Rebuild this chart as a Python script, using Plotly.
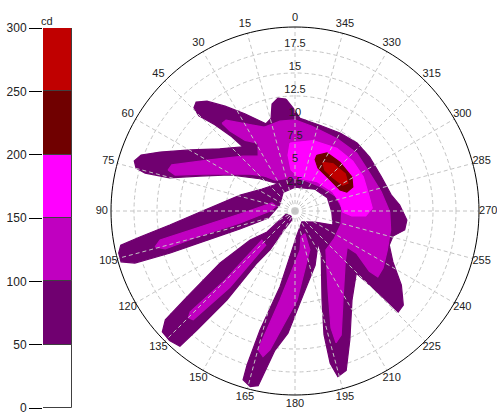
import plotly.graph_objects as go

# ---------------- data (luminous intensity contours, polar: angle deg, radius) -------------
# level >= 50 cd, main body with fingers
l50_main_theta = [4.6, 8.6, 12.1, 14.5, 18.4, 27.3, 33.7, 38.7, 42.2, 44.4, 45.3, 42.9, 40.4, 39.1,
                  50.4, 59.8, 66.4, 70.0, 72.7, 74.9, 75.8, 75.2, 69.8, 61.0, 47.6, 32.2, 56.3, 73.8,
                  89.4, 96.4, 99.5, 101.1, 103.4, 106.3, 108.0, 108.6, 108.4, 108.1, 104.5, 68.2, 32.3,
                  0.0, 317.7, 292.1, 268.5, 249.8, 241.2, 212.5, 184.8, 168.8, 163.6, 162.7, 162.9,
                  165.7, 168.1, 171.8, 176.7, 183.1, 200.3, 215.7, 211.8, 196.9, 193.2, 193.0, 194.5,
                  197.8, 203.1, 212.6, 224.5, 225.4, 225.6, 225.6, 229.0, 235.1, 242.5, 250.1, 255.7,
                  260.2, 265.4, 273.3, 279.5, 291.6, 305.8, 317.6, 330.0, 343.8, 356.9, 1.1]
l50_main_r = [12.2, 12.4, 11.9, 10.4, 10.0, 11.9, 13.7, 15.3, 16.0, 15.7, 14.7, 12.8, 10.6, 9.0,
              10.6, 13.2, 16.0, 17.8, 18.3, 17.9, 16.8, 14.1, 11.0, 8.1, 5.2, 3.5, 4.3, 6.2,
              9.8, 13.7, 17.1, 19.3, 19.7, 19.7, 18.3, 14.3, 10.3, 6.3, 3.0, 1.8, 2.4,
              2.6, 3.2, 3.8, 4.0, 4.4, 2.5, 1.4, 2.6, 8.4, 13.5, 17.5, 19.2,
              19.7, 19.4, 15.3, 13.3, 10.0, 6.3, 4.3, 5.4, 10.1, 13.8, 17.0, 18.6,
              18.2, 15.2, 11.5, 9.5, 11.8, 14.1, 15.7, 15.6, 14.1, 12.0, 10.9, 11.0,
              12.1, 12.2, 11.4, 10.6, 10.1, 10.0, 10.0, 9.8, 9.7, 10.1, 11.2]
# level >= 50 cd, separate finger near 135 deg
l50_isl_theta = [141.3, 108.4, 126.9, 122.8, 124.7, 128.5, 130.0, 132.3, 135.9, 139.6, 140.5, 142.6,
                 143.8, 147.3, 149.9, 161.6]
l50_isl_r = [0.7, 1.0, 3.8, 5.8, 9.9, 15.0, 18.4, 19.5, 19.6, 19.3, 16.8, 12.2, 7.0, 5.0, 2.4, 1.0]

# level >= 100 cd
l100_body_theta = [21.7, 9.5, 0.0, 348.7, 329.7, 313.1, 296.9, 282.5, 269.4, 258.8, 247.0, 237.1,
                   231.5, 231.0, 235.5, 235.3, 224.4, 208.3, 200.4, 197.3, 197.1, 202.7, 218.5,
                   235.3, 254.2, 273.7, 290.1, 311.6, 342.1, 8.6, 32.8, 42.5, 36.0, 28.2]
l100_body_r = [9.7, 9.9, 9.9, 9.4, 9.1, 9.2, 9.1, 9.6, 10.3, 10.6, 10.9, 11.4,
               11.5, 10.4, 8.1, 6.9, 7.8, 11.0, 14.4, 15.0, 13.3, 9.3, 5.4,
               5.2, 5.2, 5.1, 4.7, 3.9, 3.5, 3.6, 4.0, 5.3, 6.8, 8.5]
l100_f45_theta = [39.7, 37.2, 27.6, 18.0, 21.0, 35.2, 39.1]
l100_f45_r = [12.4, 12.4, 10.6, 9.5, 7.6, 9.4, 11.2]
l100_f75_theta = [72.1, 69.5, 59.0, 43.4, 28.6, 40.6, 50.6, 66.5, 73.3]
l100_f75_r = [14.5, 14.3, 10.8, 8.2, 6.8, 5.0, 6.3, 10.1, 13.6]
l100_f105_theta = [104.4, 102.1, 99.6, 93.1, 70.8, 75.3, 90.0, 102.3, 104.7, 106.3]
l100_f105_r = [15.7, 15.0, 10.5, 6.0, 2.65, 2.1, 2.7, 6.1, 10.7, 14.7]
l100_f135_theta = [135.0, 133.9, 134.6, 131.3, 139.5, 139.5, 136.9]
l100_f135_r = [16.4, 15.8, 10.7, 4.8, 4.9, 10.9, 16.2]
l100_f170_theta = [203.5, 201.0, 181.3, 169.8, 167.6, 165.1, 170.4, 187.3, 193.0]
l100_f170_r = [2.7, 4.5, 9.7, 15.3, 16.2, 15.6, 9.8, 4.3, 2.9]

# level >= 150 cd
l150_theta = [4.2, 345.6, 326.3, 310.8, 296.6, 282.2, 272.2, 266.0, 265.0, 268.8, 280.1, 296.6,
              322.8, 351.4, 5.6, 7.1]
l150_r = [7.4, 7.9, 8.2, 8.3, 8.3, 8.2, 8.4, 7.7, 6.2, 5.2, 5.0, 4.6, 4.0, 3.6, 4.5, 6.1]

# level >= 200 cd
l200_theta = [338.6, 331.1, 317.4, 300.8, 292.5, 290.1, 295.0, 311.5, 331.9, 338.6]
l200_r = [6.5, 7.2, 7.2, 7.2, 6.8, 6.0, 5.4, 5.1, 5.3, 6.0]

# level >= 250 cd
l250_theta = [330.3, 321.1, 306.5, 297.8, 298.4, 311.0, 323.8]
l250_r = [6.1, 6.6, 6.8, 6.5, 5.9, 5.5, 5.5]

# colour scale (cd)
band_edges = [0, 50, 100, 150, 200, 250, 300]
band_colors = ["#FFFFFF", "#700070", "#C000C0", "#FF00FF", "#700000", "#C00000"]

angle_ticks = list(range(0, 360, 15))
angle_labels = [str(a) for a in angle_ticks]
radial_ticks = [2.5, 5, 7.5, 10, 12.5, 15, 17.5]
radial_labels = ["2.5", "5", "7.5", "10", "12.5", "15", "17.5"]
r_max = 20          # rim of the diagram
r_label = 21.0      # where the angle labels sit
r_axis = 21.5       # radial axis extent (room for labels)
unit_label = "cd"

FONT = "Liberation Sans, Arial, sans-serif"
TXT = "#222222"
GRID = "#C4C4C4"
DASH = "4px,3px"

# ---------------- figure ----------------
fig = go.Figure()

polys = [
    (l50_main_theta, l50_main_r, band_colors[1]),
    (l50_isl_theta, l50_isl_r, band_colors[1]),
    (l100_body_theta, l100_body_r, band_colors[2]),
    (l100_f45_theta, l100_f45_r, band_colors[2]),
    (l100_f75_theta, l100_f75_r, band_colors[2]),
    (l100_f105_theta, l100_f105_r, band_colors[2]),
    (l100_f135_theta, l100_f135_r, band_colors[2]),
    (l100_f170_theta, l100_f170_r, band_colors[2]),
    (l150_theta, l150_r, band_colors[3]),
    (l200_theta, l200_r, band_colors[4]),
    (l250_theta, l250_r, band_colors[5]),
]
for th, rr, col in polys:
    fig.add_trace(go.Scatterpolar(
        theta=th + th[:1], r=rr + rr[:1], mode="lines", fill="toself",
        fillcolor=col, line=dict(color=col, width=1.2), hoverinfo="skip",
        showlegend=False))

# angular grid spokes (centre to rim), dashed, drawn over the fills
spoke_t, spoke_r = [], []
for a in angle_ticks:
    spoke_t += [a, a, None]
    spoke_r += [0, r_max, None]
fig.add_trace(go.Scatterpolar(
    theta=spoke_t, r=spoke_r, mode="lines", line=dict(color=GRID, width=1, dash=DASH),
    hoverinfo="skip", showlegend=False, connectgaps=False))

# rim circle
rim_t = list(range(0, 361, 2))
fig.add_trace(go.Scatterpolar(
    theta=rim_t, r=[r_max] * len(rim_t), mode="lines", line=dict(color="#000000", width=1),
    hoverinfo="skip", showlegend=False))

# radial value labels along the 0 deg direction
fig.add_trace(go.Scatterpolar(
    theta=[0] * len(radial_ticks), r=radial_ticks, mode="text", text=radial_labels,
    textposition="top center", textfont=dict(size=11, color=TXT, family=FONT),
    hoverinfo="skip", showlegend=False, cliponaxis=False))

# angle labels just outside the rim
fig.add_trace(go.Scatterpolar(
    theta=angle_ticks, r=[r_label] * len(angle_ticks), mode="text", text=angle_labels,
    textposition="middle center", textfont=dict(size=11, color=TXT, family=FONT),
    hoverinfo="skip", showlegend=False, cliponaxis=False))

# colour bar drawn as stacked bars on a cartesian axis
fig.add_trace(go.Bar(
    x=[0] * (len(band_edges) - 1),
    y=[band_edges[i + 1] - band_edges[i] for i in range(len(band_edges) - 1)],
    base=band_edges[:-1], width=1,
    marker=dict(color=band_colors, line=dict(color="#404040", width=1)),
    hoverinfo="skip", showlegend=False, xaxis="x", yaxis="y"))

# polar area: rim radius 184 px centred at (295, 211) px
cx, cy, rim_px = 295, 211, 184
R = rim_px * r_axis / r_max
fig.update_layout(
    width=497, height=419,
    margin=dict(l=0, r=0, t=0, b=0, pad=0, autoexpand=False),
    paper_bgcolor="white", plot_bgcolor="white",
    font=dict(family=FONT, size=11, color=TXT),
    polar=dict(
        domain=dict(x=[(cx - R) / 497, (cx + R) / 497],
                    y=[1 - (cy + R) / 419, 1 - (cy - R) / 419]),
        bgcolor="white",
        angularaxis=dict(
            rotation=90, direction="counterclockwise",
            showticklabels=False, ticks="", showline=False, showgrid=False),
        radialaxis=dict(
            range=[0, r_axis], tickmode="array", tickvals=radial_ticks,
            showticklabels=False, ticks="", showline=False,
            showgrid=True, gridcolor=GRID, gridwidth=1, griddash=DASH),
    ),
    xaxis=dict(domain=[43 / 497, 72 / 497], range=[-0.5, 0.5], visible=False, fixedrange=True),
    yaxis=dict(domain=[1 - 408 / 419, 1 - 28 / 419], range=[0, 300],
               tickmode="array", tickvals=band_edges, ticks="outside", ticklen=13,
               tickcolor="#000000", showgrid=False, zeroline=False, showline=False,
               tickfont=dict(size=12, color=TXT), fixedrange=True, automargin=False),
    annotations=[dict(text=unit_label, x=39 / 497, y=1 - 13 / 419, xref="paper", yref="paper",
                      showarrow=False, font=dict(size=11, color=TXT))],
    bargap=0,
)

fig.write_html("out.html", config={"displayModeBar": False},
               post_script="document.body.style.margin='0px';document.body.style.overflow='hidden';")
